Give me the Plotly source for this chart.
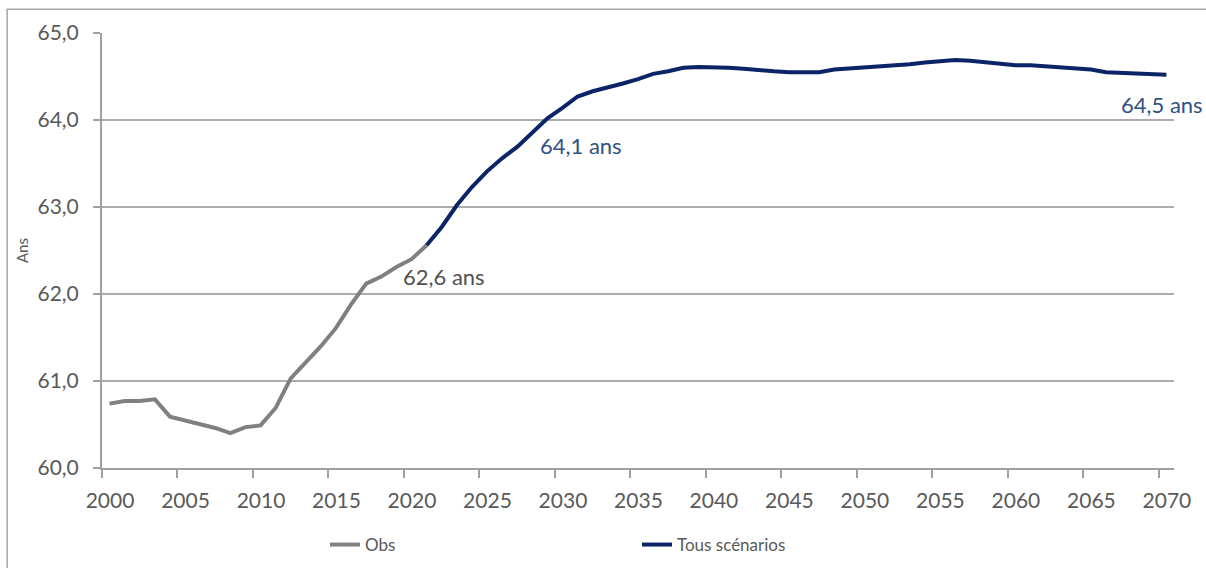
import plotly.graph_objects as go

# ---- data ----
obs_years = list(range(2000, 2022))
obs_values = [60.74, 60.77, 60.77, 60.79, 60.59, 60.55, 60.50, 60.46, 60.40, 60.47,
              60.49, 60.69, 61.03, 61.21, 61.40, 61.61, 61.88, 62.12, 62.20, 62.31,
              62.40, 62.56]

proj_years = list(range(2021, 2071))
proj_values = [62.56, 62.77, 63.02, 63.23, 63.41, 63.56, 63.69, 63.86, 64.02, 64.14,
               64.27, 64.33, 64.37, 64.42, 64.47, 64.53, 64.56, 64.60, 64.61, 64.61,
               64.60, 64.59, 64.57, 64.56, 64.55, 64.55, 64.55, 64.58, 64.59, 64.61,
               64.62, 64.63, 64.64, 64.66, 64.68, 64.69, 64.68, 64.66, 64.65, 64.63,
               64.63, 64.62, 64.60, 64.59, 64.58, 64.55, 64.54, 64.54, 64.53, 64.52]

tick_years = list(range(2000, 2071, 5))
y_ticks = [60, 61, 62, 63, 64, 65]

labels = [("62,6 ans", "obs", 2021), ("64,1 ans", "proj", 2030), ("64,5 ans", "proj", 2070)]

OBS_COLOR = "#808080"
PROJ_COLOR = "#0B2467"
FONT = "Lato"

# categories are centred between year tick marks
def pos(years):
    return [y + 0.5 for y in years]

fig = go.Figure()
fig.add_trace(go.Scatter(x=pos(obs_years), y=obs_values, mode="lines", name="Obs",
                         line=dict(color=OBS_COLOR, width=4), showlegend=True))
fig.add_trace(go.Scatter(x=pos(proj_years), y=proj_values, mode="lines", name="Tous scénarios",
                         line=dict(color=PROJ_COLOR, width=4), showlegend=True))

lookup = {"obs": dict(zip(obs_years, obs_values)), "proj": dict(zip(proj_years, proj_values))}
label_style = {
    "62,6 ans": dict(color="#505050", xshift=17, yshift=-31),
    "64,1 ans": dict(color="#2F5283", xshift=18, yshift=-38),
    "64,5 ans": dict(color="#2F5283", xshift=-4, yshift=-30),
}
for text, series, yr in labels:
    st = label_style[text]
    fig.add_annotation(x=yr + 0.5, y=lookup[series][yr], xref="x", yref="y", text=text,
                       showarrow=False, xshift=st["xshift"], yshift=st["yshift"],
                       font=dict(family=FONT, size=22, color=st["color"]))

fig.update_layout(
    width=1206, height=568,
    margin=dict(l=102, r=32, t=33, b=100, autoexpand=False),
    paper_bgcolor="white", plot_bgcolor="white",
    separators=", ",
    font=dict(family=FONT, size=18, color="#595959"),
    showlegend=True,
    legend=dict(orientation="h", xref="container", yref="container",
                x=0.2695, y=0.0405, xanchor="left", yanchor="middle",
                entrywidth=267, entrywidthmode="pixels",
                font=dict(family=FONT, size=17, color="#595959"),
                bgcolor="rgba(0,0,0,0)", itemclick=False),
    xaxis=dict(range=[2000, 2071], tickvals=tick_years, ticktext=[str(t) for t in tick_years],
               ticks="outside", ticklen=8, tickcolor="#A0A0A0", tickwidth=1.5,
               ticklabelshift=8, ticklabelstandoff=5,
               showline=True, linecolor="#A0A0A0", linewidth=2,
               showgrid=False, zeroline=False, automargin=False,
               tickfont=dict(family=FONT, size=21, color="#595959")),
    yaxis=dict(range=[60, 65], tickvals=y_ticks, tickformat=".1f",
               ticks="outside", ticklen=7, tickcolor="#A0A0A0", tickwidth=1.5,
               ticklabelstandoff=10,
               showline=True, linecolor="#A0A0A0", linewidth=2,
               showgrid=True, gridcolor="#ACACAC", gridwidth=1.5, zeroline=False,
               automargin=False,
               tickfont=dict(family=FONT, size=21, color="#595959"),
               title=dict(text="Ans", font=dict(family=FONT, size=15, color="#595959"),
                          standoff=5)),
)

# outer chart frame (extends past right and bottom edges)
fig.add_shape(type="rect", xref="paper", yref="paper",
              x0=-0.0885, x1=1.05, y0=-0.28, y1=1.0545,
              line=dict(color="#A6A6A6", width=1.5), fillcolor="rgba(0,0,0,0)", layer="below")

# remove the default 8px page margin so the figure sits at the window origin
fig.write_html("out.html", config={"displayModeBar": False},
               post_script="document.body.style.margin='0';")
